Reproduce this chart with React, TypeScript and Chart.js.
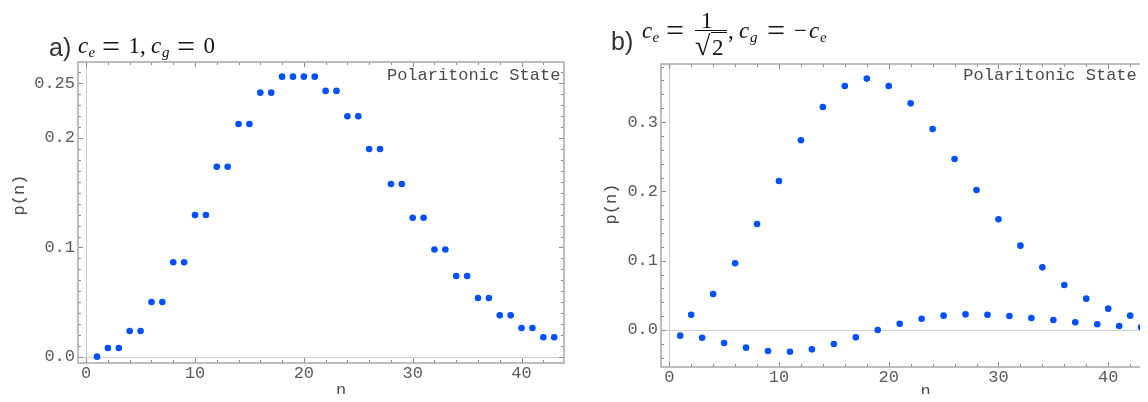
import React, { useEffect, useRef } from "react";
import { Chart, registerables } from "chart.js";

Chart.register(...registerables);

// ---------------- data ----------------
const nValues = [
  1, 2, 3, 4, 5, 6, 7, 8, 9, 10, 11, 12, 13, 14, 15, 16, 17, 18, 19, 20, 21, 22,
  23, 24, 25, 26, 27, 28, 29, 30, 31, 32, 33, 34, 35, 36, 37, 38, 39, 40, 41, 42, 43,
];

// panel a) c_e = 1, c_g = 0
const pStateA = [
  0.0003, 0.0082, 0.0082, 0.0237, 0.0237, 0.0502, 0.0502, 0.0865, 0.0865, 0.1297,
  0.1297, 0.1738, 0.1738, 0.2128, 0.2128, 0.2414, 0.2414, 0.256, 0.256, 0.256,
  0.256, 0.243, 0.243, 0.2198, 0.2198, 0.19, 0.19, 0.158, 0.158, 0.1272, 0.1272,
  0.0982, 0.0982, 0.074, 0.074, 0.0539, 0.0539, 0.038, 0.038, 0.0265, 0.0265,
  0.018, 0.018,
];

// panel b) c_e = 1/sqrt(2), c_g = -c_e
const pStateB = [
  -0.0082, 0.0221, -0.0111, 0.052, -0.0188, 0.0962, -0.0255, 0.153, -0.0303, 0.215,
  -0.0313, 0.2737, -0.0279, 0.3218, -0.0202, 0.352, -0.0106, 0.3627, 0.0, 0.352,
  0.0091, 0.327, 0.0163, 0.29, 0.0207, 0.2468, 0.0226, 0.202, 0.0221, 0.1597,
  0.0202, 0.1217, 0.0173, 0.0904, 0.0144, 0.065, 0.0111, 0.0452, 0.0082, 0.0308,
  0.0058, 0.0207, 0.0039,
];

const xMajorTicks = [0, 10, 20, 30, 40];
const xTickLabels = ["0", "10", "20", "30", "40"];
const xMinorTicks = [2, 4, 6, 8, 12, 14, 16, 18, 22, 24, 26, 28, 32, 34, 36, 38, 42];

const yMajorTicksA = [0, 0.1, 0.2, 0.25];
const yTickLabelsA = ["0.0", "0.1", "0.2", "0.25"];
const yMinorTicksA = [
  0.01, 0.02, 0.03, 0.04, 0.05, 0.06, 0.07, 0.08, 0.09, 0.11, 0.12, 0.13, 0.14,
  0.15, 0.16, 0.17, 0.18, 0.19, 0.21, 0.22, 0.23, 0.24, 0.26,
];

const yMajorTicksB = [0, 0.1, 0.2, 0.3];
const yTickLabelsB = ["0.0", "0.1", "0.2", "0.3"];
const yMinorTicksB = [
  -0.04, -0.02, 0.02, 0.04, 0.06, 0.08, 0.12, 0.14, 0.16, 0.18, 0.22, 0.24, 0.26,
  0.28, 0.32, 0.34, 0.36, 0.38,
];

const noteText = "Polaritonic State";
const yAxisTitle = "p(n)";
const xAxisTitle = "n";

// ---------------- style ----------------
const BLUE = "#0050ff";
const MONO = '"Liberation Mono", "DejaVu Sans Mono", monospace';
const TICK_COLOR = "#5a5a5a";

const framePlugin = {
  id: "frame",
  beforeDatasetsDraw(chart: any, _a: any, opts: any) {
    const { ctx, chartArea: a, scales } = chart;
    const xs = scales.x;
    const ys = scales.y;
    ctx.save();
    // zero lines
    ctx.strokeStyle = "#d0d0d0";
    ctx.lineWidth = 1;
    const x0 = Math.round(xs.getPixelForValue(0)) + 0.5;
    const y0 = Math.round(ys.getPixelForValue(0)) + 0.5;
    ctx.beginPath();
    ctx.moveTo(x0, a.top);
    ctx.lineTo(x0, a.bottom);
    ctx.moveTo(a.left, y0);
    ctx.lineTo(a.right, y0);
    ctx.stroke();
    // inward ticks
    ctx.strokeStyle = "#8a8a8a";
    ctx.lineWidth = 1;
    const xt = (vals: number[], len: number) => {
      vals.forEach((v) => {
        const px = Math.round(xs.getPixelForValue(v)) + 0.5;
        ctx.beginPath();
        ctx.moveTo(px, a.bottom);
        ctx.lineTo(px, a.bottom - len);
        ctx.moveTo(px, a.top);
        ctx.lineTo(px, a.top + len);
        ctx.stroke();
      });
    };
    const yt = (vals: number[], len: number) => {
      vals.forEach((v) => {
        const py = Math.round(ys.getPixelForValue(v)) + 0.5;
        ctx.beginPath();
        ctx.moveTo(a.left, py);
        ctx.lineTo(a.left + len, py);
        ctx.moveTo(a.right, py);
        ctx.lineTo(a.right - len, py);
        ctx.stroke();
      });
    };
    xt(opts.xMajor, 5);
    xt(opts.xMinor, 3);
    yt(opts.yMajor, 5);
    yt(opts.yMinor, 3);
    // frame
    ctx.strokeStyle = "#a8a8a8";
    ctx.lineWidth = 1.5;
    ctx.strokeRect(a.left, a.top, a.right - a.left, a.bottom - a.top);
    ctx.restore();
  },
  afterDraw(chart: any, _a: any, opts: any) {
    const { ctx, scales } = chart;
    ctx.save();
    ctx.font = `17px ${MONO}`;
    ctx.fillStyle = "#4a4a4a";
    // note
    ctx.textAlign = "center";
    ctx.textBaseline = "middle";
    ctx.fillText(
      opts.note.text,
      scales.x.getPixelForValue(opts.note.x),
      scales.y.getPixelForValue(opts.note.y)
    );
    // x title
    ctx.textBaseline = "alphabetic";
    ctx.fillText(opts.xTitle.text, opts.xTitle.x, opts.xTitle.y);
    // y title
    ctx.translate(opts.yTitle.x, opts.yTitle.y);
    ctx.rotate(-Math.PI / 2);
    ctx.textBaseline = "middle";
    ctx.fillText(opts.yTitle.text, 0, 0);
    ctx.restore();
  },
};

type PanelProps = {
  left: number;
  width: number;
  values: number[];
  yMin: number;
  yMax: number;
  yMajor: number[];
  yLabels: string[];
  yMinor: number[];
  yAxisWidth: number;
  padTop: number;
  padRight: number;
  padBottom: number;
  note: { x: number; y: number };
  yTitlePos: { x: number; y: number };
  xTitlePos: { x: number; y: number };
};

function Panel(p: PanelProps) {
  const ref = useRef<HTMLCanvasElement | null>(null);
  useEffect(() => {
    if (!ref.current) return;
    const tickFont = { family: MONO, size: 17 };
    const chart = new Chart(ref.current, {
      type: "scatter",
      data: {
        datasets: [
          {
            data: nValues.map((n, i) => ({ x: n, y: p.values[i] })),
            backgroundColor: BLUE,
            borderWidth: 0,
            pointRadius: 3.3,
            pointHoverRadius: 3.3,
          },
        ],
      },
      options: {
        responsive: false,
        animation: false,
        events: [],
        layout: {
          padding: { left: 0, top: p.padTop, right: p.padRight, bottom: p.padBottom },
        },
        plugins: {
          legend: { display: false },
          tooltip: { enabled: false },
          frame: {
            xMajor: xMajorTicks,
            xMinor: xMinorTicks,
            yMajor: p.yMajor,
            yMinor: p.yMinor,
            note: { text: noteText, x: p.note.x, y: p.note.y },
            yTitle: { text: yAxisTitle, x: p.yTitlePos.x, y: p.yTitlePos.y },
            xTitle: { text: xAxisTitle, x: p.xTitlePos.x, y: p.xTitlePos.y },
          },
        } as any,
        scales: {
          x: {
            type: "linear",
            min: -0.75,
            max: 43.9,
            grid: { display: false, drawTicks: false },
            border: { display: false },
            afterBuildTicks: (s: any) => {
              s.ticks = xMajorTicks.map((v) => ({ value: v }));
            },
            afterFit: (s: any) => {
              s.height = 25;
            },
            ticks: {
              autoSkip: false,
              maxRotation: 0,
              padding: 0,
              font: tickFont,
              color: TICK_COLOR,
              callback: (v: any) => {
                const i = xMajorTicks.indexOf(Number(v));
                return i >= 0 ? xTickLabels[i] : "";
              },
            },
          },
          y: {
            type: "linear",
            min: p.yMin,
            max: p.yMax,
            grid: { display: false, drawTicks: false },
            border: { display: false },
            afterBuildTicks: (s: any) => {
              s.ticks = p.yMajor.map((v) => ({ value: v }));
            },
            afterFit: (s: any) => {
              s.width = p.yAxisWidth;
            },
            ticks: {
              autoSkip: false,
              padding: 3,
              font: tickFont,
              color: TICK_COLOR,
              callback: (v: any) => {
                const i = p.yMajor.findIndex((m) => Math.abs(m - Number(v)) < 1e-9);
                return i >= 0 ? p.yLabels[i] : "";
              },
            },
          },
        },
      },
      plugins: [framePlugin as any],
    });
    return () => chart.destroy();
  }, []);
  return (
    <canvas
      ref={ref}
      width={p.width}
      height={402}
      style={{ position: "absolute", left: p.left, top: 0, width: p.width, height: 402 }}
    />
  );
}

// ---------------- titles (HTML text) ----------------
type Piece = {
  t: string;
  x: number;
  b: number;
  size: number;
  fam: "serif" | "sans";
  it?: boolean;
};
const K = { serif: 0.8375, sans: 0.8465 };
const FAM = {
  serif: '"Liberation Serif", "Times New Roman", serif',
  sans: '"Liberation Sans", Arial, sans-serif',
};

const titleA: Piece[] = [
  { t: "a)", x: 49, b: 56.5, size: 25, fam: "sans" },
  { t: "c", x: 78, b: 53.3, size: 23, fam: "serif", it: true },
  { t: "e", x: 88.5, b: 57.5, size: 15, fam: "serif", it: true },
  { t: "=", x: 102, b: 57, size: 32, fam: "serif" },
  { t: "1", x: 128.5, b: 53.3, size: 23, fam: "serif" },
  { t: ",", x: 140, b: 53.3, size: 23, fam: "serif" },
  { t: "c", x: 151, b: 53.3, size: 23, fam: "serif", it: true },
  { t: "g", x: 162, b: 57.5, size: 15, fam: "serif", it: true },
  { t: "=", x: 177, b: 57, size: 32, fam: "serif" },
  { t: "0", x: 203.5, b: 53.3, size: 23, fam: "serif" },
];

const titleB: Piece[] = [
  { t: "b)", x: 611, b: 50, size: 25, fam: "sans" },
  { t: "c", x: 642, b: 38.3, size: 23, fam: "serif", it: true },
  { t: "e", x: 652.5, b: 42.5, size: 15, fam: "serif", it: true },
  { t: "=", x: 666, b: 40.5, size: 32, fam: "serif" },
  { t: "1", x: 701, b: 28.3, size: 23, fam: "serif" },
  { t: "\u221A", x: 695, b: 55, size: 28, fam: "serif" },
  { t: "2", x: 712, b: 55, size: 23, fam: "serif" },
  { t: ",", x: 728, b: 38.3, size: 23, fam: "serif" },
  { t: "c", x: 739, b: 38.3, size: 23, fam: "serif", it: true },
  { t: "g", x: 750, b: 42.5, size: 15, fam: "serif", it: true },
  { t: "=", x: 767, b: 40.5, size: 32, fam: "serif" },
  { t: "\u2212", x: 794, b: 38.3, size: 23, fam: "serif" },
  { t: "c", x: 809, b: 38.3, size: 23, fam: "serif", it: true },
  { t: "e", x: 820, b: 42.5, size: 15, fam: "serif", it: true },
];

function Title({ pieces }: { pieces: Piece[] }) {
  return (
    <>
      {pieces.map((p, i) => (
        <span
          key={i}
          style={{
            position: "absolute",
            left: p.x,
            top: p.b - K[p.fam] * p.size,
            fontSize: p.size,
            lineHeight: `${p.size}px`,
            fontFamily: FAM[p.fam],
            fontStyle: p.it ? "italic" : "normal",
            color: p.fam === "sans" ? "#333" : "#111",
            whiteSpace: "pre",
          }}
        >
          {p.t}
        </span>
      ))}
    </>
  );
}

export default function App() {
  return (
    <div
      style={{
        position: "relative",
        width: 1148,
        height: 402,
        margin: -8,
        overflow: "hidden",
        background: "#fff",
      }}
    >
      <Panel
        left={0}
        width={580}
        values={pStateA}
        yMin={-0.0055}
        yMax={0.2694}
        yMajor={yMajorTicksA}
        yLabels={yTickLabelsA}
        yMinor={yMinorTicksA}
        yAxisWidth={78}
        padTop={62}
        padRight={16}
        padBottom={14}
        note={{ x: 35.6, y: 0.2575 }}
        yTitlePos={{ x: 19, y: 195 }}
        xTitlePos={{ x: 341, y: 395 }}
      />
      <Panel
        left={590}
        width={600}
        values={pStateB}
        yMin={-0.0534}
        yMax={0.3838}
        yMajor={yMajorTicksB}
        yLabels={yTickLabelsB}
        yMinor={yMinorTicksB}
        yAxisWidth={71}
        padTop={64}
        padRight={39}
        padBottom={10}
        note={{ x: 34.7, y: 0.367 }}
        yTitlePos={{ x: 21.5, y: 204 }}
        xTitlePos={{ x: 335.7, y: 396 }}
      />
      <Title pieces={titleA} />
      <Title pieces={titleB} />
      <div
        style={{ position: "absolute", left: 695, top: 29.5, width: 32, height: 1.2, background: "#111" }}
      />
      <div
        style={{ position: "absolute", left: 711, top: 32, width: 16, height: 1.2, background: "#111" }}
      />
    </div>
  );
}
